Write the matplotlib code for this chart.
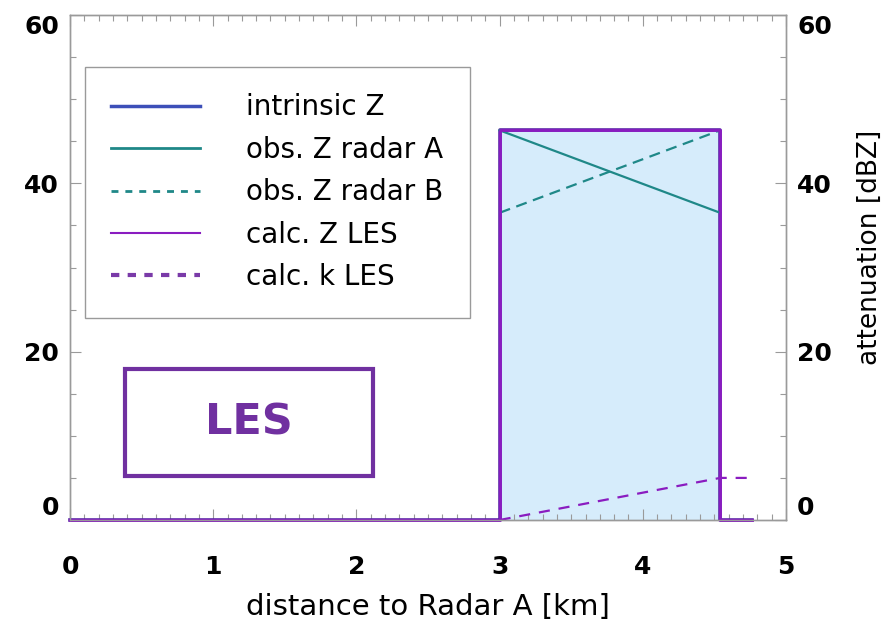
import matplotlib
matplotlib.use("Agg")
import matplotlib.pyplot as plt
from matplotlib.patches import Rectangle
from matplotlib.ticker import MultipleLocator

# distance to radar A [km] and reflectivity / attenuation [dBZ]
x_intrinsic = [0.0, 3.0, 3.0, 4.54, 4.54, 4.76]
z_intrinsic = [0.0, 0.0, 46.3, 46.3, 0.0, 0.0]

x_obs = [3.0, 4.54]
z_obs_a = [46.3, 36.5]
z_obs_b = [36.5, 46.3]

x_les = [0.0, 3.0, 3.0, 4.54, 4.54, 4.76]
z_les = [0.0, 0.0, 46.3, 46.3, 0.0, 0.0]

x_k = [3.0, 4.54, 4.76]
k_les = [0.0, 5.0, 5.0]

fill_x = [3.0, 4.54]
fill_top = [46.3, 46.3]

labels = ["intrinsic Z", "obs. Z radar A", "obs. Z radar B", "calc. Z LES", "calc. k LES"]

c_blue = "#3d4fb8"
c_teal = "#1f8888"
c_purple = "#8a1cc0"
c_purple_dk = "#7a3aa8"
c_box = "#7030a0"
c_fill = "#d6ecfb"
c_spine = "#9a9a9a"

plt.rcParams["font.family"] = ["DejaVu Sans"]

fig = plt.figure(figsize=(8.96, 6.37), dpi=100)
ax = fig.add_axes([70 / 896, 117 / 637, 716 / 896, 505 / 637])

ax.fill_between(fill_x, 0, fill_top, color=c_fill, lw=0, zorder=1)
ax.plot(x_intrinsic, z_intrinsic, color="#5a24a8", lw=2.6, zorder=3, clip_on=False)
ax.plot(x_obs, z_obs_a, color=c_teal, lw=1.6, zorder=4)
ax.plot(x_obs, z_obs_b, color=c_teal, lw=1.6, ls=(0, (5, 3)), zorder=4)
ax.plot(x_les, z_les, color=c_purple, lw=2.0, zorder=5, clip_on=False)
ax.plot(x_k, k_les, color=c_purple, lw=1.6, ls=(0, (5, 4)), zorder=5)

ax.set_xlim(0, 5)
ax.set_ylim(0, 60)
ax.xaxis.set_major_locator(MultipleLocator(1))
ax.xaxis.set_minor_locator(MultipleLocator(0.1))
ax.yaxis.set_major_locator(MultipleLocator(20))
ax.yaxis.set_minor_locator(MultipleLocator(5))

ax2 = ax.twinx()
ax2.set_ylim(0, 60)
ax2.yaxis.set_major_locator(MultipleLocator(20))
ax2.yaxis.set_minor_locator(MultipleLocator(5))
ax2.set_ylabel("attenuation [dBZ]", fontsize=19, labelpad=18)
ax2.yaxis.label.set_y(0.54)

for a in (ax, ax2):
    for s in a.spines.values():
        s.set_color(c_spine)
        s.set_linewidth(1.0)
    a.tick_params(which="both", direction="in", color=c_spine, width=0.8,
                  labelsize=18, pad=8)
    a.tick_params(which="major", length=8)
    a.tick_params(which="minor", length=4)
ax.tick_params(axis="x", which="both", top=True, pad=25)
ax.tick_params(axis="y", which="both", right=False)

for a in (ax, ax2):
    for t in a.get_xticklabels() + a.get_yticklabels():
        t.set_fontweight("bold")

ax.set_xlabel("distance to Radar A [km]", fontsize=21, labelpad=10)

# label box for the LES panel
ax.add_patch(Rectangle((0.077, 0.087), 0.346, 0.212, transform=ax.transAxes,
                       fill=False, edgecolor=c_box, lw=3.0, zorder=6))
ax.text(0.25, 0.193, "LES", transform=ax.transAxes, ha="center", va="center",
        fontsize=31, fontweight="bold", color=c_box, zorder=6)

# legend proxies
h1, = ax.plot([], [], color=c_blue, lw=2.5)
h2, = ax.plot([], [], color=c_teal, lw=2.0)
h3, = ax.plot([], [], color=c_teal, lw=2.0, ls=(0, (2.5, 2.5)))
h4, = ax.plot([], [], color=c_purple, lw=1.5)
h5, = ax.plot([], [], color=c_purple_dk, lw=3.0, ls=(0, (2, 2)))
leg = ax2.legend([h1, h2, h3, h4, h5], labels, loc="upper left",
                 bbox_to_anchor=(85 / 896, 1 - 67 / 637), bbox_transform=fig.transFigure,
                 fontsize=20, frameon=True, fancybox=False, framealpha=1,
                 edgecolor=c_spine, handlelength=3.2, handletextpad=1.65,
                 labelspacing=0.52, borderpad=0.95, borderaxespad=0)
leg.get_frame().set_linewidth(1.0)

# keep the end labels of the value axes inside the frame
fig.canvas.draw()
for a in (ax, ax2):
    for tick in a.yaxis.get_major_ticks():
        loc = tick.get_loc()
        for lab in (tick.label1, tick.label2):
            if abs(loc) < 1e-9:
                lab.set_verticalalignment("bottom")
            elif abs(loc - 60) < 1e-9:
                lab.set_verticalalignment("top")

fig.savefig("out.png", dpi=100)
